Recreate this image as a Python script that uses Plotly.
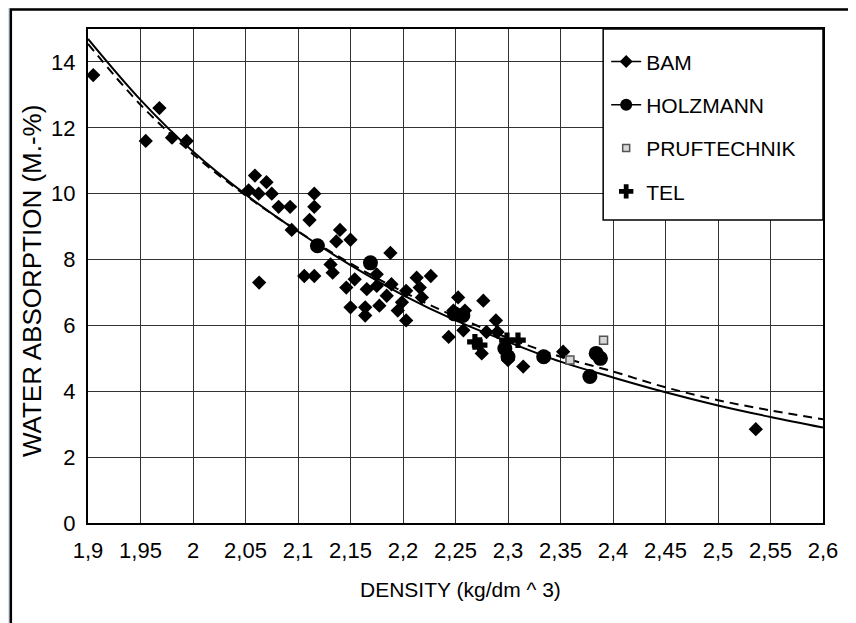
import plotly.graph_objects as go

# ---------------- data ----------------
bam_x = [1.905, 1.955, 1.968, 1.980, 1.994, 2.053, 2.059, 2.0625, 2.063, 2.070,
         2.075, 2.0815, 2.0925, 2.094, 2.106, 2.111, 2.1155, 2.1155, 2.1155, 2.131,
         2.133, 2.1365, 2.140, 2.150, 2.146, 2.154, 2.150, 2.164, 2.164, 2.1655,
         2.175, 2.175, 2.1775, 2.1845, 2.188, 2.189, 2.195, 2.199, 2.203, 2.203,
         2.213, 2.216, 2.218, 2.2265, 2.2435, 2.248, 2.2525, 2.259, 2.2575, 2.2765,
         2.275, 2.2795, 2.2885, 2.290, 2.300, 2.3145, 2.3525, 2.536]
bam_y = [13.6, 11.6, 12.6, 11.7, 11.6, 10.1, 10.55, 10.0, 7.3, 10.35,
         10.0, 9.6, 9.6, 8.9, 7.5, 9.2, 10.0, 9.6, 7.5, 7.85,
         7.6, 8.55, 8.9, 8.6, 7.15, 7.4, 6.55, 6.55, 6.3, 7.1,
         7.55, 7.2, 6.6, 6.9, 8.2, 7.25, 6.45, 6.7, 7.05, 6.15,
         7.45, 7.15, 6.85, 7.5, 5.65, 6.45, 6.85, 6.45, 5.85, 6.75,
         5.15, 5.8, 6.15, 5.8, 4.95, 4.75, 5.2, 2.85]

holz_x = [2.1185, 2.169, 2.249, 2.257, 2.297, 2.300, 2.334, 2.378, 2.384, 2.388]
holz_y = [8.42, 7.9, 6.35, 6.3, 5.3, 5.05, 5.05, 4.45, 5.15, 5.0]

pruf_x = [2.359, 2.391]
pruf_y = [4.95, 5.55]

tel_x = [2.2685, 2.273, 2.299, 2.3095]
tel_y = [5.5, 5.4, 5.55, 5.55]

curve_x = [1.90, 1.95, 2.00, 2.05, 2.10, 2.15, 2.20, 2.25, 2.30, 2.35, 2.40, 2.45, 2.50, 2.55, 2.60]
solid_y = [14.7, 12.85, 11.28, 9.98, 8.85, 7.83, 6.92, 6.15, 5.5, 4.9, 4.42, 3.97, 3.57, 3.22, 2.9]
dashed_y = [14.55, 12.7, 11.2, 9.95, 8.86, 7.88, 7.02, 6.27, 5.62, 5.05, 4.6, 4.12, 3.73, 3.42, 3.15]

x_ticks = [1.9, 1.95, 2.0, 2.05, 2.1, 2.15, 2.2, 2.25, 2.3, 2.35, 2.4, 2.45, 2.5, 2.55, 2.6]
x_tick_labels = ["1,9", "1,95", "2", "2,05", "2,1", "2,15", "2,2", "2,25", "2,3",
                 "2,35", "2,4", "2,45", "2,5", "2,55", "2,6"]
y_ticks = [0, 2, 4, 6, 8, 10, 12, 14]

legend_names = ["BAM", "HOLZMANN", "PRUFTECHNIK", "TEL"]

FONT = "Arial, Liberation Sans, sans-serif"

fig = go.Figure()

# fitted curves
fig.add_trace(go.Scatter(x=curve_x, y=solid_y, mode="lines", line=dict(color="black", width=2, shape="spline"),
                         showlegend=False, hoverinfo="skip"))
fig.add_trace(go.Scatter(x=curve_x, y=dashed_y, mode="lines",
                         line=dict(color="black", width=2, dash="9px,6px", shape="spline"),
                         showlegend=False, hoverinfo="skip"))

# data markers
fig.add_trace(go.Scatter(x=bam_x, y=bam_y, mode="markers", showlegend=False,
                         marker=dict(symbol="diamond", size=11, color="black")))
fig.add_trace(go.Scatter(x=holz_x, y=holz_y, mode="markers", showlegend=False,
                         marker=dict(symbol="circle", size=15, color="black")))
fig.add_trace(go.Scatter(x=tel_x, y=tel_y, mode="markers", showlegend=False,
                         marker=dict(symbol="cross", size=13, color="black")))
fig.add_trace(go.Scatter(x=pruf_x, y=pruf_y, mode="markers", showlegend=False,
                         marker=dict(symbol="square", size=8, color="#d8d8d8",
                                     line=dict(color="#555555", width=1.5))))

# legend-only entries
leg_styles = [
    dict(mode="lines+markers", marker=dict(symbol="diamond", size=10, color="black"), line=dict(color="black", width=1.5)),
    dict(mode="lines+markers", marker=dict(symbol="circle", size=12, color="black"), line=dict(color="black", width=1.5)),
    dict(mode="markers", marker=dict(symbol="square", size=7, color="#d8d8d8", line=dict(color="#555555", width=1.5))),
    dict(mode="markers", marker=dict(symbol="cross", size=12, color="black")),
]
for i, (name, st) in enumerate(zip(legend_names, leg_styles)):
    fig.add_trace(go.Scatter(x=[None], y=[None], name=name, legendgroup=f"g{i}", showlegend=True, **st))

# panel + legend box shapes
fig.add_shape(type="rect", xref="paper", yref="paper", x0=-0.105, x1=1.038, y0=-0.25, y1=1.0395,
              fillcolor="white", line=dict(color="black", width=2.5), layer="below")
fig.add_shape(type="rect", xref="paper", yref="paper", x0=0.7009, x1=1.0, y0=0.6136, y1=1.0,
              fillcolor="white", line=dict(color="black", width=1.5), layer="above")

fig.add_annotation(text="DENSITY (kg/dm ^ 3)", xref="paper", yref="paper", x=0.5068, y=-0.135,
                   showarrow=False, font=dict(family=FONT, size=21, color="black"),
                   xanchor="center", yanchor="middle")
fig.add_annotation(text="WATER ABSORPTION (M.-%)", xref="paper", yref="paper", x=-0.076, y=0.49,
                   showarrow=False, textangle=-90, font=dict(family=FONT, size=26, color="black"),
                   xanchor="center", yanchor="middle")

fig.update_layout(
    width=848, height=615,
    margin=dict(l=79.5, r=33, t=21, b=99.7),
    paper_bgcolor="#d9e1ef",
    plot_bgcolor="white",
    font=dict(family=FONT, size=22, color="black"),
    legend=dict(x=0.705, y=0.975, xanchor="left", yanchor="top",
                bgcolor="rgba(0,0,0,0)", borderwidth=0, tracegroupgap=13,
                font=dict(family=FONT, size=21, color="black")),
)
fig.update_xaxes(range=[1.9, 2.6], tickvals=x_ticks, ticktext=x_tick_labels,
                 showgrid=True, gridcolor="#333333", gridwidth=1,
                 showline=True, linecolor="black", linewidth=2, mirror=True,
                 ticks="outside", ticklen=7, tickcolor="white", zeroline=False)
fig.update_yaxes(range=[0, 15], tickvals=y_ticks,
                 showgrid=True, gridcolor="#333333", gridwidth=1,
                 showline=True, linecolor="black", linewidth=2, mirror=True,
                 ticks="outside", ticklen=6, tickcolor="white", zeroline=False)

fig.write_html("out.html")
